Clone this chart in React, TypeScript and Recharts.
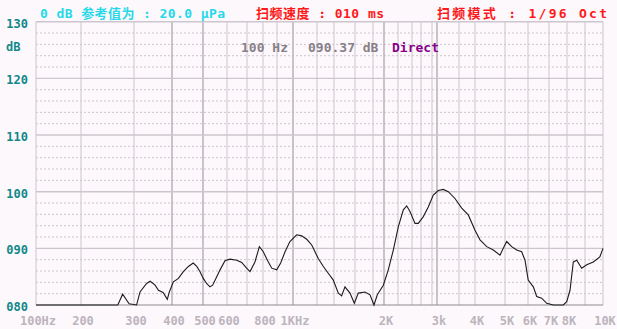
import React from 'react';
import { LineChart, Line, XAxis, YAxis, ReferenceLine } from 'recharts';

// sweep readout: frequency (Hz) and level (dB)
const FREQS = [
  100, 265, 275, 289, 306, 314, 330, 339, 352, 361,
  374, 386, 392, 404, 419, 434, 450, 466, 478, 489,
  501, 514, 527, 538, 555, 569, 591, 614, 647, 672,
  698, 718, 748, 776, 802, 830, 861, 898, 922, 949,
  980, 1028, 1068, 1110, 1153, 1197, 1214, 1271, 1329, 1391,
  1439, 1470, 1501, 1550, 1593, 1635, 1708, 1765, 1817, 1876,
  1987, 2059, 2131, 2204, 2274, 2322, 2370, 2465, 2538, 2641,
  2731, 2850, 3027, 3135, 3247, 3403, 3580, 3782, 4000, 4152,
  4364, 4584, 4817, 4936, 5068, 5273, 5486, 5708, 5859, 6010,
  6238, 6396, 6635, 6883, 7227, 7783, 7983, 8159, 8337, 8525,
  8808, 9090, 9448, 9817, 10000,
];
const LEVELS = [
  80.0, 80.0, 81.9, 80.2, 80.0, 82.3, 83.8, 84.2, 83.5, 82.6,
  82.2, 81.0, 82.3, 84.1, 84.7, 85.9, 86.8, 87.4, 86.8, 85.9,
  84.7, 83.8, 83.2, 83.5, 85.0, 86.2, 87.8, 88.1, 87.9, 87.5,
  86.5, 85.9, 87.6, 90.3, 89.4, 87.9, 86.5, 86.2, 87.4, 89.4,
  91.2, 92.4, 92.2, 91.6, 90.6, 88.8, 88.2, 86.8, 85.6, 84.4,
  82.1, 81.6, 83.2, 82.1, 80.3, 82.1, 82.3, 81.8, 80.0, 81.8,
  83.5, 86.2, 89.7, 93.8, 96.8, 97.5, 96.5, 94.4, 94.4, 95.6,
  97.3, 99.4, 100.2, 100.4, 100.0, 98.8, 97.1, 95.9, 93.2, 91.5,
  90.3, 89.7, 88.8, 90.0, 91.2, 90.3, 89.7, 89.4, 87.9, 84.4,
  83.2, 81.5, 81.2, 80.3, 80.0, 80.0, 80.6, 82.6, 87.6, 87.9,
  86.5, 87.1, 87.6, 88.5, 90.0,
];

// the analyzer's frequency grid and where each line sits on its (non-log) axis, 0..567
const GRID_FREQS = [100, 200, 300, 400, 500, 600, 700, 800, 900, 1000, 1200, 1400, 1600, 1800, 2000, 2200, 2400, 2600, 2800, 3000, 3500, 4000, 5000, 6000, 7000, 8000, 9000, 10000];
const GRID_POS = [0, 45, 98, 136, 167, 191, 211, 227, 241, 257, 281, 298, 319, 337, 348, 362, 376, 385, 396, 401, 423, 439, 469, 492, 513, 531, 549, 567];
const HEAVY_FREQS = [400, 500, 1000, 2000, 3000];

const X_TICK_FREQS = [100, 200, 300, 400, 500, 600, 800, 1000, 2000, 3000, 4000, 5000, 6000, 7000, 8000, 10000];
const X_TICK_LABELS = ['100Hz', '200', '300', '400', '500', '600', '800', '1KHz', '2K', '3k', '4K', '5K', '6K', '7K', '8K', '10K'];

const Y_TICKS = [80, 90, 100, 110, 120, 130];
const Y_MINOR = [82, 84, 86, 88, 92, 94, 96, 98, 102, 104, 106, 108, 112, 114, 116, 118, 122, 124, 126, 128];

const W = 617;
const H = 329;
const MONO = '"DejaVu Sans Mono", "Noto Sans CJK SC", monospace';
const GRID = '#cec6ce';

function freqToPos(f: number) {
  for (let i = 0; i < GRID_FREQS.length - 1; i++) {
    const f0 = GRID_FREQS[i];
    const f1 = GRID_FREQS[i + 1];
    if (f <= f1) {
      const t = Math.log(f / f0) / Math.log(f1 / f0);
      return GRID_POS[i] + t * (GRID_POS[i + 1] - GRID_POS[i]);
    }
  }
  return GRID_POS[GRID_POS.length - 1];
}

const data = FREQS.map((f, i) => ({ pos: freqToPos(f), db: LEVELS[i] }));
const xTickPos = X_TICK_FREQS.map(freqToPos);

const XTick = ({ x, y, payload }: any) => {
  const idx = xTickPos.findIndex((p) => Math.abs(p - payload.value) < 0.01);
  return (
    <text x={x + 2} y={y + 20} textAnchor="middle" fill="#bcb4bc" fontFamily={MONO} fontWeight="bold" fontSize={12}>
      {idx >= 0 ? X_TICK_LABELS[idx] : ''}
    </text>
  );
};

const YTick = ({ x, y, payload }: any) => (
  <text x={x - 8} y={y + 6} textAnchor="end" fill="#108888" fontFamily={MONO} fontWeight="bold" fontSize={12}>
    {String(payload.value).padStart(3, '0')}
  </text>
);

export default function App() {
  return (
    <div style={{ position: 'absolute', left: 0, top: 0, width: W, height: H, background: '#fcf8fc' }}>
      <LineChart width={W} height={H} data={data} margin={{ top: 21.7, right: 14, bottom: 0, left: 0 }}>
        <XAxis
          type="number"
          dataKey="pos"
          domain={[0, 567]}
          ticks={xTickPos}
          interval={0}
          axisLine={false}
          tickLine={false}
          tickSize={0}
          tickMargin={0}
          height={24}
          tick={<XTick />}
        />
        <YAxis
          type="number"
          domain={[80, 130]}
          ticks={Y_TICKS}
          interval={0}
          axisLine={false}
          tickLine={false}
          tickSize={0}
          tickMargin={0}
          width={36}
          tick={<YTick />}
        />
        {Y_MINOR.map((v) => (
          <ReferenceLine key={'m' + v} y={v} stroke={GRID} strokeDasharray="2 2" strokeWidth={1} />
        ))}
        {GRID_FREQS.map((f, i) => (
          <ReferenceLine
            key={'v' + f}
            x={GRID_POS[i]}
            stroke={HEAVY_FREQS.includes(f) ? '#bdb5bd' : GRID}
            strokeWidth={HEAVY_FREQS.includes(f) ? 1.6 : 1}
          />
        ))}
        {Y_TICKS.map((v) => (
          <ReferenceLine key={'y' + v} y={v} stroke={v === 80 ? '#8c8c8c' : GRID} strokeWidth={v === 80 ? 1 : 1.4} />
        ))}
        <Line
          type="linear"
          dataKey="db"
          stroke="#1c1c1c"
          strokeWidth={1.1}
          dot={false}
          activeDot={false}
          isAnimationActive={false}
        />
      </LineChart>
      <svg width={W} height={H} style={{ position: 'absolute', left: 0, top: 0, pointerEvents: 'none' }}>
        <g fontFamily={MONO} fontWeight="bold" fontSize={13}>
          <text x={40} y={18} fill="#28d8e8" textLength={185} lengthAdjust="spacing">0 dB 参考值为 : 20.0 μPa</text>
          <text x={256} y={18} fill="#ff1818" textLength={128} lengthAdjust="spacing">扫频速度 : 010 ms</text>
          <text x={437} y={18} fill="#ff1818" textLength={170} lengthAdjust="spacing">扫频模式 : 1/96 Oct</text>
          <text x={6} y={51} fill="#108888" fontSize={12}>dB</text>
          <text x={241} y={52} fill="#888088">100 Hz</text>
          <text x={308} y={52} fill="#888088">090.37 dB</text>
          <text x={392} y={52} fill="#880088">Direct</text>
        </g>
      </svg>
    </div>
  );
}
